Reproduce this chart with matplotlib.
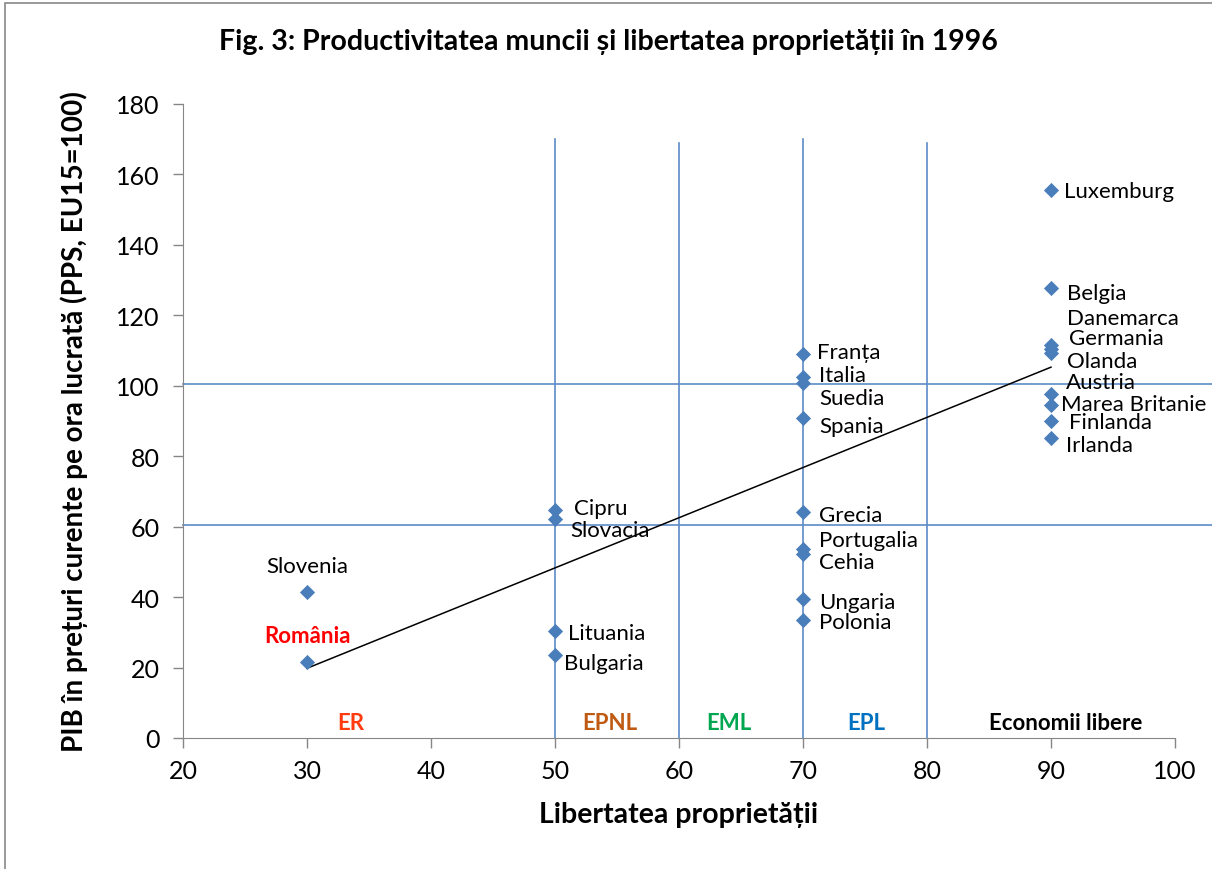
import numpy as np
import matplotlib.pyplot as plt
from matplotlib.patches import Rectangle

plt.rcParams['font.family'] = ['Lato', 'DejaVu Sans']

countries = ["Slovenia", "România", "Cipru", "Slovacia", "Lituania", "Bulgaria",
             "Franța", "Italia", "Suedia", "Spania", "Grecia", "Portugalia", "Cehia",
             "Ungaria", "Polonia", "Luxemburg", "Belgia", "Danemarca", "Germania",
             "Olanda", "Austria", "Marea Britanie", "Finlanda", "Irlanda"]
freedom = [30, 30, 50, 50, 50, 50,
           70, 70, 70, 70, 70, 70, 70, 70, 70,
           90, 90, 90, 90, 90, 90, 90, 90, 90]
gdp_hour = [41.5, 21.5, 64.6, 62.2, 30.4, 23.6,
            108.9, 102.4, 100.7, 90.8, 64.1, 53.6, 52.1, 39.5, 33.5,
            155.6, 127.7, 111.7, 110.4, 109.4, 97.6, 94.6, 89.9, 85.1]

zones = ["ER", "EPNL", "EML", "EPL", "Economii libere"]
zone_x = [33.5, 54.4, 64.0, 75.1, 91.2]
zone_colors = ["#FF3B0F", "#C05A12", "#00A650", "#0070C0", "black"]

# label offsets in pixels (dx, dy) from the marker
offsets = {
    "Slovenia": (0, 26), "România": (0, 27), "Cipru": (19, 2), "Slovacia": (15, -11),
    "Lituania": (13, -2), "Bulgaria": (9, -8), "Franța": (14, 2), "Italia": (16, 2),
    "Suedia": (16, -15), "Spania": (16, -8), "Grecia": (16, -3), "Portugalia": (16, 9),
    "Cehia": (16, -8), "Ungaria": (16, -3), "Polonia": (16, -2), "Luxemburg": (13, -1),
    "Belgia": (16, -5), "Danemarca": (16, 27), "Germania": (18, 11), "Olanda": (16, -8),
    "Austria": (15, 12), "Marea Britanie": (10, 1), "Finlanda": (18, -1), "Irlanda": (15, -7),
}

fig = plt.figure(figsize=(12.12, 8.7), dpi=100)
ax = fig.add_axes([183/1212, 1 - 739/870, 992/1212, 634/870])

fig.patches.append(Rectangle((5/1212, -0.1), 1.2, 1 - 4/870 + 0.1, transform=fig.transFigure,
                             fill=False, edgecolor="#888888", linewidth=1.2))

line_c = "#5B8BC8"
for y in [100.5, 60.5]:
    ax.plot([20, 103], [y, y], color=line_c, lw=1.2, clip_on=False, zorder=1)
for x, top in [(50, 170), (60, 169), (70, 170), (80, 169)]:
    ax.plot([x, x], [0, top], color=line_c, lw=1.2, zorder=1)

fx = np.array(freedom)
fy = np.array(gdp_hour)
k, b = np.polyfit(fx, fy, 1)
ax.plot([30, 90], [k*30 + b, k*90 + b], color="black", lw=1.1, zorder=2)

ax.scatter(fx, fy, marker="D", s=60, color="#4A7EBB", zorder=3, linewidths=0)

for name, x, y in zip(countries, freedom, gdp_hour):
    dx, dy = offsets[name]
    if name == "România":
        ax.annotate(name, (x, y), xytext=(dx, dy), textcoords="offset pixels",
                    ha="center", va="center", fontsize=16, color="#FF0000", fontweight="bold")
    elif name == "Slovenia":
        ax.annotate(name, (x, y), xytext=(dx, dy), textcoords="offset pixels",
                    ha="center", va="center", fontsize=16)
    else:
        ax.annotate(name, (x, y), xytext=(dx, dy), textcoords="offset pixels",
                    ha="left", va="center", fontsize=16)

for z, x, c in zip(zones, zone_x, zone_colors):
    ax.text(x, 4.5, z, ha="center", va="center", fontsize=16, color=c, fontweight="bold")

ax.set_xlim(20, 100)
ax.set_ylim(0, 180)
ax.set_xticks(range(20, 101, 10))
ax.set_yticks(range(0, 181, 20))
for s in ["top", "right"]:
    ax.spines[s].set_visible(False)
for s in ["left", "bottom"]:
    ax.spines[s].set_color("#868686")
ax.tick_params(length=7, color="#868686", labelsize=18, width=1)
ax.tick_params(axis="x", pad=8)
ax.tick_params(axis="y", pad=10)

ax.set_xlabel("Libertatea proprietății", fontsize=20.5, fontweight="bold")
ax.set_ylabel("PIB în prețuri curente pe ora lucrată (PPS, EU15=100)", fontsize=20,
              fontweight="bold")
ax.xaxis.set_label_coords(0.5, (739 - 802) / 634)
ax.yaxis.set_label_coords((88 - 183) / 992, (739 - 422) / 634)
fig.text(608/1212, 1 - 42/870, "Fig. 3: Productivitatea muncii și libertatea proprietății în 1996",
         ha="center", va="center", fontsize=20.5, fontweight="bold")

fig.savefig("out.png", dpi=100)
